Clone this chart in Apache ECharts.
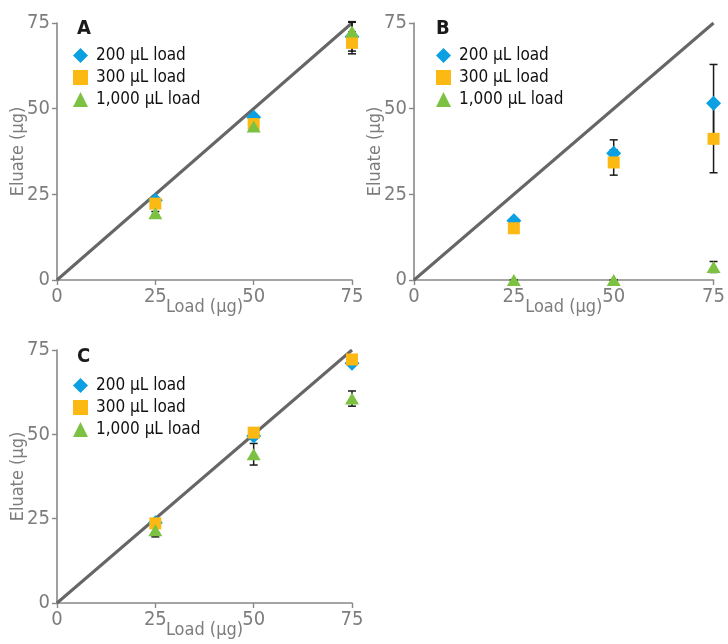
<!DOCTYPE html>
<html>
<head>
<meta charset="utf-8">
<script src="https://cdn.jsdelivr.net/npm/echarts@6/dist/echarts.min.js"></script>
<style>
  html, body { margin: 0; padding: 0; background: #fff; }
  #chart { width: 728px; height: 644px; }
</style>
</head>
<body>
<div id="chart"></div>
<script>
// Loads (µg) on the x axis
const loads = [25, 50, 75];
const seriesNames = ['200 µL load', '300 µL load', '1,000 µL load'];
const panelLetters = ['A', 'B', 'C'];

// Panel A: eluate means and standard deviations (µg)
const a200 = [23.3, 47.5, 71.0];
const a300 = [22.3, 45.5, 69.2];
const a1000 = [19.5, 44.8, 72.5];
const a200Sd = [0.5, 0.8, 4.2];
const a300Sd = [0.5, 0.8, 3.2];
const a1000Sd = [0.5, 0.8, 2.9];

// Panel B
const b200 = [17.3, 37.0, 51.6];
const b300 = [15.1, 34.3, 41.2];
const b1000 = [0, 0, 3.8];
const b200Sd = [0.5, 3.9, 11.3];
const b300Sd = [0.5, 3.7, 9.9];
const b1000Sd = [0, 0, 1.6];

// Panel C
const c200 = [23.8, 49.5, 71.1];
const c300 = [23.6, 50.5, 72.2];
const c1000 = [21.6, 44.1, 60.6];
const c200Sd = [0.5, 0.8, 0.8];
const c300Sd = [0.5, 0.8, 0.8];
const c1000Sd = [2.0, 3.2, 2.25];

// Identity reference line (eluate = load)
const identity = [[0, 0], [75, 75]];

const panels = [
  { means: [a200, a300, a1000], sds: [a200Sd, a300Sd, a1000Sd] },
  { means: [b200, b300, b1000], sds: [b200Sd, b300Sd, b1000Sd] },
  { means: [c200, c300, c1000], sds: [c200Sd, c300Sd, c1000Sd] }
];

const FONT = "'Liberation Sans Narrow', 'DejaVu Sans Condensed', 'Roboto', sans-serif";
const COLORS = ['#0aa0e2', '#fdb913', '#7dc142'];
const SYMBOLS = ['diamond', 'rect', 'triangle'];
const SIZES = [15, 12, [14, 12]];
const AXIS_GRAY = '#888888';
const LABEL_GRAY = '#7d7d7d';

const grids = [
  { left: 57, top: 23, width: 295, height: 257 },
  { left: 414, top: 23, width: 303, height: 257 },
  { left: 57, top: 350, width: 295, height: 253 }
];
const legendPos = [
  { left: 73, top: 47 },
  { left: 436, top: 47 },
  { left: 73, top: 377 }
];
const letterPos = [
  { left: 77, top: 19 },
  { left: 436, top: 19 },
  { left: 77, top: 347 }
];

function axisCommon(name, isY) {
  return {
    type: 'value',
    min: 0, max: 75, interval: 25,
    name: name,
    nameLocation: 'middle',
    nameMoveOverlap: false,
    nameGap: isY ? 30 : 18,
    nameTextStyle: { fontFamily: FONT, fontSize: 18, color: LABEL_GRAY },
    axisLine: { show: true, lineStyle: { color: AXIS_GRAY, width: 1.6 } },
    axisTick: { show: true, length: 5, lineStyle: { color: AXIS_GRAY, width: 1.4 } },
    axisLabel: { fontFamily: FONT, fontSize: 20, color: LABEL_GRAY, margin: 7 },
    splitLine: { show: false }
  };
}

function errorRender(params, api) {
  const x = api.value(0);
  const lo = api.coord([x, api.value(1)]);
  const hi = api.coord([x, api.value(2)]);
  const w = 4;
  const st = { stroke: '#1a1a1a', lineWidth: 1.5 };
  return {
    type: 'group',
    children: [
      { type: 'line', shape: { x1: lo[0], y1: lo[1], x2: hi[0], y2: hi[1] }, style: st },
      { type: 'line', shape: { x1: lo[0] - w, y1: lo[1], x2: lo[0] + w, y2: lo[1] }, style: st },
      { type: 'line', shape: { x1: hi[0] - w, y1: hi[1], x2: hi[0] + w, y2: hi[1] }, style: st }
    ]
  };
}

const xAxes = [], yAxes = [], series = [], legends = [], titles = [];

panels.forEach((p, gi) => {
  xAxes.push(Object.assign(axisCommon('Load (µg)', false), { gridIndex: gi }));
  yAxes.push(Object.assign(axisCommon('Eluate (µg)', true), { gridIndex: gi }));

  series.push({
    type: 'line', xAxisIndex: gi, yAxisIndex: gi,
    data: identity, symbol: 'none', silent: true,
    lineStyle: { color: '#666666', width: 3 }, z: 1
  });

  // error bars beneath the markers
  p.means.forEach((m, si) => {
    series.push({
      type: 'custom', xAxisIndex: gi, yAxisIndex: gi, z: 2, silent: true,
      renderItem: errorRender,
      data: loads.map((x, i) => [x, m[i] - p.sds[si][i], m[i] + p.sds[si][i]])
    });
  });

  p.means.forEach((m, si) => {
    series.push({
      type: 'scatter', name: seriesNames[si], xAxisIndex: gi, yAxisIndex: gi,
      symbol: SYMBOLS[si], symbolSize: SIZES[si], clip: false,
      itemStyle: { color: COLORS[si], opacity: 1 },
      z: 3 + si,
      data: loads.map((x, i) => [x, m[i]])
    });
  });

  legends.push({
    orient: 'vertical', left: legendPos[gi].left, top: legendPos[gi].top,
    padding: 0, itemWidth: 15, itemHeight: 15, itemGap: 5,
    selectedMode: false,
    textStyle: { fontFamily: FONT, fontSize: 17, color: '#111111', padding: [0, 0, 0, 3] },
    data: seriesNames.map((n, si) => ({ name: n, icon: SYMBOLS[si] }))
  });

  titles.push({
    text: panelLetters[gi], left: letterPos[gi].left, top: letterPos[gi].top, padding: 0,
    textStyle: { fontFamily: FONT, fontSize: 20, fontWeight: 'bold', color: '#1a1a1a' }
  });
});

const chart = echarts.init(document.getElementById('chart'), null, { renderer: 'canvas' });
chart.setOption({
  animation: false,
  backgroundColor: '#ffffff',
  title: titles,
  legend: legends,
  grid: grids,
  xAxis: xAxes,
  yAxis: yAxes,
  series: series
});
</script>
</body>
</html>
